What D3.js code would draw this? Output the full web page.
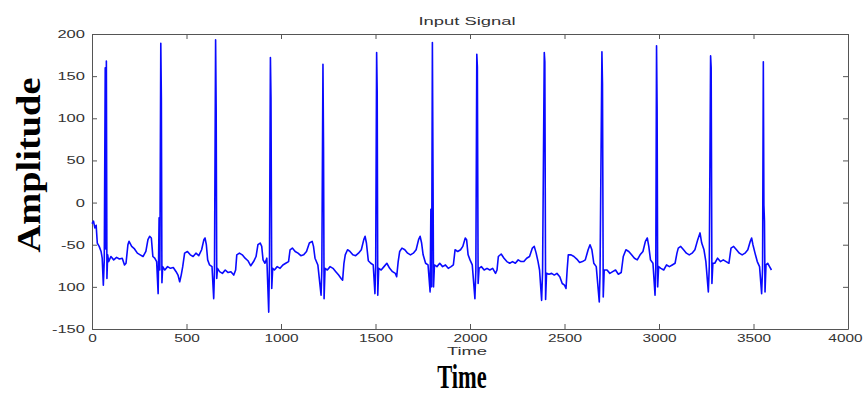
<!DOCTYPE html>
<html lang="en">
<head>
    <meta charset="UTF-8">
    <title>Input Signal</title>
    <script src="https://d3js.org/d3.v7.min.js"></script>
    <style>
        body { margin: 0; background: #fff; }
        svg { display: block; }
        .axis path, .axis line { stroke: #555; stroke-width: 1; }
        .axis text {
            font-family: "Liberation Sans", Arial, sans-serif;
            font-size: 11px;
            fill: #333;
            transform-box: fill-box;
            transform-origin: center;
            transform: scaleX(1.4);
        }
        .y-axis text { transform-origin: right center; transform: scaleX(1.5); }
        .small-label {
            font-family: "Liberation Sans", Arial, sans-serif;
            font-size: 11.5px;
            fill: #333;
            transform-box: fill-box;
            transform-origin: center;
            transform: scaleX(1.6);
        }
        .big-label {
            font-family: "Liberation Serif", "Times New Roman", serif;
            font-weight: bold;
            fill: #000;
        }
    </style>
</head>
<body>
<div id="chart"></div>
<script>
    // tick values and labels as shown on the figure
    const xTicks = [0, 500, 1000, 1500, 2000, 2500, 3000, 3500, 4000];
    const yTicks = [-150, -100, -50, 0, 50, 100, 150, 200];
    const yTickLabels = ["-150", "100", "-50", "0", "50", "100", "150", "200"];

    // ECG trace, [time, amplitude]
    const signalPoints = [
        [0,-25],[8,-22],[15,-30],[22,-27],[28,-48],[38,-52],[48,-58],[54,-66],
        [60,-98],[65,-68],[70,160],[73,-55],[76,168],[79,-90],[83,-62],[88,-70],
        [100,-64],[115,-68],[130,-65],[145,-67],[160,-66],[172,-74],[180,-72],[190,-50],[196,-46],[210,-52],[225,-55],[240,-60],[255,-62],[270,-64],[285,-58],[296,-44],[305,-40],[314,-42],[322,-64],[332,-66],[342,-70],
        [350,-108],[355,-18],[359,-80],[364,189],[367,124],[370,-95],[374,-76],
        [385,-80],[400,-76],[415,-78],[430,-77],[445,-82],[455,-86],[464,-94],[472,-86],[480,-76],[490,-60],[505,-58],[520,-62],[535,-64],[550,-60],[565,-63],[580,-56],[592,-44],[598,-42],[605,-50],[612,-68],[622,-74],[635,-76],
        [644,-114],[648,-82],[654,193],[657,110],[660,-90],[664,-78],
        [675,-82],[690,-84],[705,-80],[720,-83],[735,-82],[750,-86],[760,-80],[766,-62],[780,-60],[795,-62],[810,-66],[825,-69],[840,-75],[855,-70],[868,-64],[878,-50],[890,-48],[898,-52],[905,-68],[915,-72],[925,-66],
        [935,-130],[939,-72],[944,172],[947,124],[951,-102],[956,-78],
        [965,-80],[980,-76],[995,-78],[1010,-74],[1025,-72],[1040,-70],[1048,-56],[1060,-54],[1075,-58],[1090,-60],[1105,-63],[1120,-62],[1135,-58],[1150,-48],[1165,-46],[1172,-52],[1180,-66],[1195,-74],
        [1212,-110],[1216,-80],[1222,164],[1225,66],[1228,-114],[1233,-78],
        [1245,-80],[1260,-76],[1275,-78],[1290,-82],[1305,-86],[1318,-90],[1326,-92],[1333,-72],[1340,-62],[1352,-56],[1365,-58],[1380,-62],[1395,-63],[1410,-60],[1425,-56],[1438,-44],[1445,-40],[1452,-48],[1462,-69],[1475,-72],[1488,-74],
        [1497,-108],[1501,-76],[1506,178],[1509,131],[1512,-110],[1517,-78],
        [1530,-80],[1545,-76],[1560,-72],[1575,-78],[1590,-82],[1605,-84],[1612,-88],[1620,-70],[1628,-58],[1640,-54],[1655,-56],[1670,-60],[1685,-62],[1700,-60],[1715,-56],[1728,-44],[1736,-40],[1744,-48],[1752,-62],[1765,-72],[1778,-74],
        [1789,-106],[1793,-8],[1797,-100],[1801,190],[1804,46],[1807,-100],[1812,-74],
        [1825,-76],[1840,-72],[1855,-76],[1870,-74],[1885,-78],[1900,-76],[1912,-74],[1921,-56],[1935,-58],[1950,-56],[1962,-52],[1975,-42],[1982,-44],[1990,-62],[2000,-68],[2012,-74],
        [2026,-114],[2031,-80],[2036,176],[2039,161],[2043,-96],[2048,-78],
        [2060,-76],[2075,-80],[2090,-78],[2105,-80],[2120,-78],[2135,-84],[2143,-80],[2150,-64],[2165,-61],[2180,-66],[2195,-70],[2210,-72],[2225,-70],[2240,-72],[2255,-68],[2270,-70],[2285,-70],[2300,-66],[2315,-64],[2330,-54],[2340,-52],[2350,-60],[2360,-70],[2368,-80],
        [2379,-116],[2384,-82],[2393,178],[2396,167],[2400,-115],[2405,-84],
        [2418,-85],[2432,-84],[2446,-86],[2460,-84],[2475,-88],[2488,-96],[2500,-98],[2508,-102],[2514,-80],[2520,-62],[2535,-62],[2550,-64],[2565,-67],[2580,-71],[2595,-70],[2610,-68],[2625,-56],[2635,-50],[2645,-56],[2655,-72],[2668,-76],
        [2684,-118],[2688,-84],[2698,179],[2701,141],[2705,-112],[2710,-80],
        [2725,-80],[2740,-84],[2755,-82],[2770,-80],[2785,-85],[2800,-83],[2811,-64],[2825,-56],[2840,-58],[2855,-62],[2870,-66],[2885,-68],[2900,-62],[2915,-58],[2928,-46],[2938,-42],[2946,-52],[2955,-68],[2968,-72],
        [2979,-110],[2983,-78],[2987,186],[2990,112],[2993,-100],[2998,-76],
        [3010,-78],[3025,-80],[3040,-74],[3055,-76],[3070,-74],[3085,-72],[3095,-60],[3102,-54],[3115,-52],[3130,-56],[3145,-60],[3160,-62],[3175,-60],[3190,-56],[3205,-44],[3217,-36],[3226,-48],[3238,-56],[3248,-70],
        [3261,-106],[3266,-76],[3273,174],[3276,160],[3280,-96],[3285,-72],
        [3295,-72],[3310,-66],[3325,-70],[3340,-68],[3355,-70],[3370,-72],[3381,-54],[3395,-52],[3410,-56],[3425,-60],[3440,-62],[3455,-60],[3470,-56],[3483,-46],[3490,-42],[3497,-50],[3508,-60],[3520,-70],[3532,-76],
        [3543,-108],[3548,-78],[3552,167],[3555,-3],[3558,-22],[3561,-106],[3566,-74],
        [3575,-72],[3585,-76],[3595,-80]
    ];

    const W = 863, H = 396;
    const plot = { left: 92, right: 848, top: 34, bottom: 329 };

    const svg = d3.select("#chart").append("svg")
        .attr("width", W)
        .attr("height", H);

    const x = d3.scaleLinear().domain([0, 4000]).range([plot.left, plot.right]);
    const y = d3.scaleLinear().domain([-150, 200]).range([plot.bottom, plot.top]);

    // box axes, ticks pointing inward like matlab
    const xAxisG = svg.append("g")
        .attr("class", "axis x-axis")
        .attr("transform", `translate(0, ${plot.bottom})`)
        .call(d3.axisBottom(x).tickValues(xTicks).tickSizeInner(-5).tickSizeOuter(0).tickPadding(5)
            .tickFormat(d3.format("d")));
    // last label sits right at the page edge, nudge it in a little
    xAxisG.selectAll(".tick text").filter(d => d === 4000).attr("dx", -3);

    svg.append("g")
        .attr("class", "axis")
        .attr("transform", `translate(0, ${plot.top})`)
        .call(d3.axisTop(x).tickValues(xTicks).tickSizeInner(-5).tickSizeOuter(0).tickFormat(""));

    svg.append("g")
        .attr("class", "axis y-axis")
        .attr("transform", `translate(${plot.left}, 0)`)
        .call(d3.axisLeft(y).tickValues(yTicks).tickSizeInner(-5).tickSizeOuter(0).tickPadding(7)
            .tickFormat((d, i) => yTickLabels[i]));

    svg.append("g")
        .attr("class", "axis")
        .attr("transform", `translate(${plot.right}, 0)`)
        .call(d3.axisRight(y).tickValues(yTicks).tickSizeInner(-5).tickSizeOuter(0).tickFormat(""));

    const line = d3.line()
        .x(d => x(d[0]))
        .y(d => y(d[1]));

    svg.append("path")
        .datum(signalPoints)
        .attr("fill", "none")
        .attr("stroke", "#0a0aff")
        .attr("stroke-width", 1.6)
        .attr("stroke-linejoin", "round")
        .attr("d", line);

    // titles
    svg.append("text")
        .attr("class", "small-label")
        .attr("x", 467)
        .attr("y", 25)
        .attr("text-anchor", "middle")
        .text("Input Signal");

    svg.append("text")
        .attr("class", "small-label")
        .attr("x", 467)
        .attr("y", 355)
        .attr("text-anchor", "middle")
        .text("Time");

    // big labels are squeezed/stretched like the original figure
    svg.append("text")
        .attr("class", "big-label")
        .attr("transform", "translate(462, 388) scale(0.66, 1)")
        .attr("text-anchor", "middle")
        .attr("font-size", 34)
        .text("Time");

    svg.append("text")
        .attr("class", "big-label")
        .attr("transform", "translate(40, 165) rotate(-90) scale(1.13, 1)")
        .attr("text-anchor", "middle")
        .attr("font-size", 34)
        .text("Amplitude");
</script>
</body>
</html>
